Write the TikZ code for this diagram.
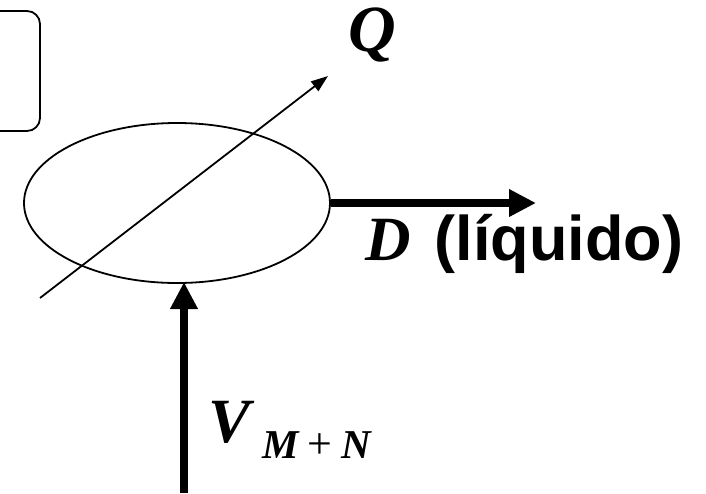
\documentclass[tikz,border=0pt]{standalone}
\usepackage{fontspec}
\setmainfont{Liberation Serif}
\newfontfamily\arialfont{Liberation Sans}
\usetikzlibrary{arrows.meta,shapes.geometric}
\begin{document}
\begin{tikzpicture}[x=1pt,y=-1pt,
  thinline/.style={line width=1.8pt},
  thickarrow/.style={line width=8pt,-{Triangle[width=26pt,length=27pt]}},
  thinarrow/.style={line width=1.8pt,-{Triangle[width=12pt,length=17pt]}},
  lbl/.style={inner sep=0pt,anchor=base west}]
\useasboundingbox (0,0) rectangle (706,493);
% rounded box (cut off at left)
\draw[thinline,rounded corners=13pt] (-30,11) -- (40,11) -- (40,131) -- (-30,131);
% ellipse
\node[draw,thinline,ellipse,minimum width=306pt,minimum height=160pt,inner sep=0pt] (e) at (177,203) {};
% thin diagonal arrow
\coordinate (qs) at (40,298);
\coordinate (qe) at (328,76);
\draw[thinarrow] (qs) -- (qe);
\node[lbl] (q) at (348,51) {\fontsize{66}{70}\selectfont\bfseries\itshape Q};
% D arrow
\coordinate (de) at (536,203);
\draw[thickarrow] (e.east) -- (de);
\node[lbl] (d) at (365,260) {\fontsize{63}{70}\selectfont\bfseries{\itshape D}\hspace{24pt}{\arialfont\upshape(líquido)}};
% V arrow
\coordinate (vs) at (184,493);
\coordinate (vt) at (184,282);
\draw[thickarrow] (vs) -- (vt);
\node[lbl] (v) at (208,442) {\fontsize{63}{70}\selectfont\bfseries\itshape V};
\node[lbl] (mn) at (262,458) {\fontsize{41}{44}\selectfont\bfseries\itshape M\hspace{9pt}{\upshape\mdseries\fontsize{44}{44}\selectfont +}\hspace{9pt}N};
\end{tikzpicture}
\end{document}
